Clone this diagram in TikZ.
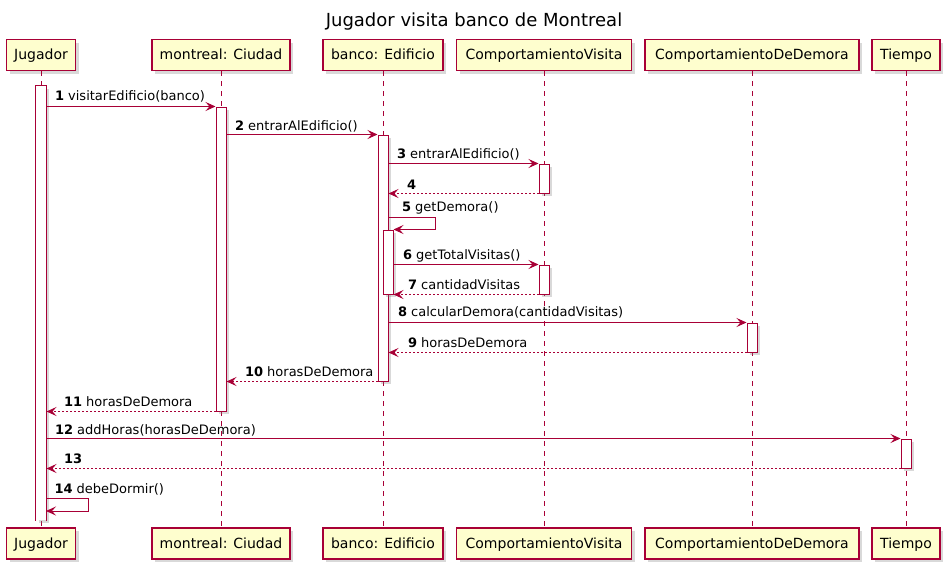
\documentclass[tikz,border=0pt]{standalone}
\usepackage{fontspec}
\setmainfont{DejaVu Sans}
\usetikzlibrary{arrows.meta,shadows}
\definecolor{umlred}{HTML}{A80036}
\definecolor{umlfill}{HTML}{FEFECE}
\tikzset{
	parti/.style={draw=umlred,fill=umlfill,line width=1.2pt,minimum height=31pt,inner sep=0pt,text height=11pt,text depth=2pt,font=\fontsize{14}{16}\selectfont,drop shadow={shadow xshift=3pt,shadow yshift=-3pt,opacity=0.3}},
	life/.style={umlred,line width=0.8pt,dash pattern=on 5pt off 5pt},
	bar/.style={draw=umlred,fill=white,line width=1pt,minimum width=10pt,inner sep=0pt,drop shadow={shadow xshift=3pt,shadow yshift=-3pt,opacity=0.3}},
	msg/.style={umlred,line width=1pt,-{Stealth[length=10pt,width=9pt,inset=4pt]}},
	ret/.style={msg,dash pattern=on 2pt off 2pt},
	lbl/.style={anchor=base west,inner sep=0pt,text=black,font=\fontsize{13}{15}\selectfont}
}

\begin{document}
\begin{tikzpicture}[x=1pt,y=-1pt]
	\useasboundingbox (0,0) rectangle (951,571);
	\node[font=\fontsize{18}{20}\selectfont] (titulo) at (474,22) {Jugador visita banco de Montreal};
	\node[parti,minimum width=69pt] (jugT) at (41,55) {Jugador};
	\node[parti,minimum width=138pt] (ciuT) at (221,55) {montreal: Ciudad};
	\node[parti,minimum width=120pt] (ediT) at (383,55) {banco: Edificio};
	\node[parti,minimum width=175pt] (cvT) at (544,55) {ComportamientoVisita};
	\node[parti,minimum width=214pt] (cdT) at (752,55) {ComportamientoDeDemora};
	\node[parti,minimum width=68pt] (tieT) at (906,55) {Tiempo};
	\node[parti,minimum width=69pt] (jugB) at (41,543.5) {Jugador};
	\node[parti,minimum width=138pt] (ciuB) at (221,543.5) {montreal: Ciudad};
	\node[parti,minimum width=120pt] (ediB) at (383,543.5) {banco: Edificio};
	\node[parti,minimum width=175pt] (cvB) at (544,543.5) {ComportamientoVisita};
	\node[parti,minimum width=214pt] (cdB) at (752,543.5) {ComportamientoDeDemora};
	\node[parti,minimum width=68pt] (tieB) at (906,543.5) {Tiempo};
	\draw[life] (jugT) -- (jugB);
	\draw[life] (ciuT) -- (ciuB);
	\draw[life] (ediT) -- (ediB);
	\draw[life] (cvT) -- (cvB);
	\draw[life] (cdT) -- (cdB);
	\draw[life] (tieT) -- (tieB);
	\node[bar,draw=none,minimum height=434pt] (aJ) at (41,303) {};
	\draw[umlred,line width=1pt] (aJ.south west) -- (aJ.north west) -- (aJ.north east) -- (aJ.south east);
	\node[bar,minimum height=304pt] (aC) at (221,259) {};
	\node[bar,minimum height=246pt] (aE) at (383,258) {};
	\node[bar,minimum height=29pt] (aV1) at (544,178.5) {};
	\node[bar,minimum height=64pt] (aE2) at (388,262) {};
	\node[bar,minimum height=29pt] (aV2) at (544,279.5) {};
	\node[bar,minimum height=29pt] (aD) at (752,337.5) {};
	\node[bar,minimum height=29pt] (aT) at (906,453.5) {};
	\coordinate (s14) at (46,498);
	\draw[msg] (aJ.east |- aC.north) -- node[lbl,pos=0,xshift=8pt,yshift=6pt]{\textbf{1} visitarEdificio(banco)} (aC.north west);
	\draw[msg] (aC.east |- aE.north) -- node[lbl,pos=0,xshift=8pt,yshift=4pt]{\textbf{2} entrarAlEdificio()} (aE.north west);
	\draw[msg] (aE.east |- aV1.north) -- node[lbl,pos=0,xshift=8pt,yshift=5pt]{\textbf{3} entrarAlEdificio()} (aV1.north west);
	\draw[ret] (aV1.south west) -- node[lbl,pos=1,xshift=18pt,yshift=4pt]{\textbf{4}} (aE.east |- aV1.south);
	\draw[msg] ([yshift=12pt]aE2.north -| aE.east) -- node[lbl,pos=0,xshift=13pt,yshift=6pt]{\textbf{5} getDemora()} ++(47,0) |- (aE2.north east);
	\draw[msg] (aE2.east |- aV2.north) -- node[lbl,pos=0,xshift=9pt,yshift=5pt]{\textbf{6} getTotalVisitas()} (aV2.north west);
	\draw[ret] (aV2.south west) -- node[lbl,pos=1,xshift=14pt,yshift=5pt]{\textbf{7} cantidadVisitas} (aE2.south east);
	\draw[msg] (aE.east |- aD.north) -- node[lbl,pos=0,xshift=9pt,yshift=6pt]{\textbf{8} calcularDemora(cantidadVisitas)} (aD.north west);
	\draw[ret] (aD.south west) -- node[lbl,pos=1,xshift=19pt,yshift=5pt]{\textbf{9} horasDeDemora} (aE.east |- aD.south);
	\draw[ret] (aE.south west) -- node[lbl,pos=1,xshift=18pt,yshift=5pt]{\textbf{10} horasDeDemora} (aC.east |- aE.south);
	\draw[ret] (aC.south west) -- node[lbl,pos=1,xshift=17pt,yshift=5pt]{\textbf{11} horasDeDemora} (aJ.east |- aC.south);
	\draw[msg] (aJ.east |- aT.north) -- node[lbl,pos=0,xshift=8pt,yshift=4pt]{\textbf{12} addHoras(horasDeDemora)} (aT.north west);
	\draw[ret] (aT.south west) -- node[lbl,pos=1,xshift=17pt,yshift=5pt]{\textbf{13}} (aJ.east |- aT.south);
	\draw[msg] (s14) -- node[lbl,pos=0,xshift=8pt,yshift=5pt]{\textbf{14} debeDormir()} ++(42,0) |- ([yshift=-13pt]s14);
\end{tikzpicture}
\end{document}
